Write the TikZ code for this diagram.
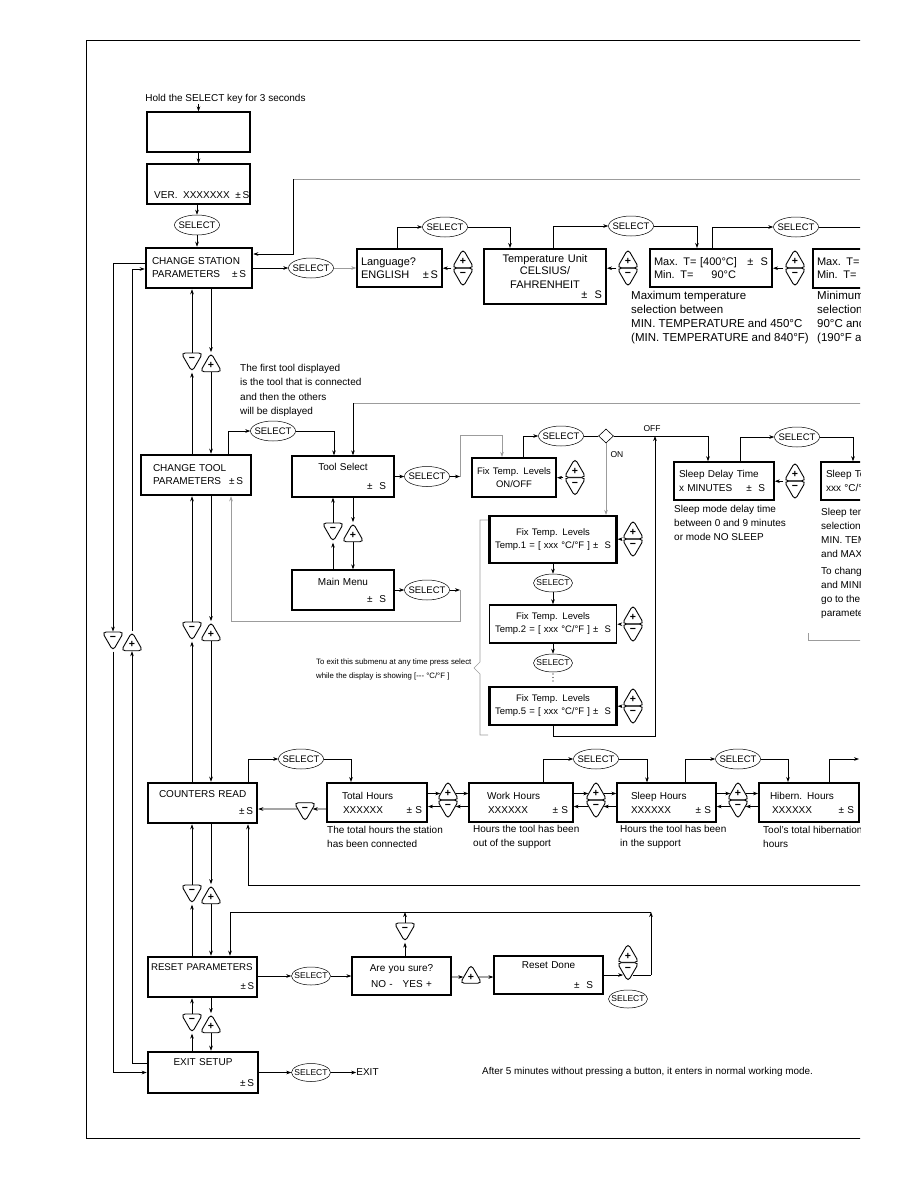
\documentclass[tikz,border=0pt]{standalone}
\usepackage{fontspec}
\setmainfont{Liberation Sans}
\usetikzlibrary{arrows.meta, shapes.geometric}
\definecolor{lgray}{HTML}{9C9C9C}
\newcommand{\selkey}{\makebox[0pt]{SELECT}}

\begin{document}
\begin{tikzpicture}[x=1pt, y=-1pt,
    disp/.style={draw, line width=1.3pt, align=left, inner xsep=5pt, inner ysep=0pt,
                 font=\fontsize{10}{14}\selectfont},
    menubox/.style={disp, line width=2.6pt, font=\fontsize{10}{13}\selectfont},
    tbox/.style={disp, align=center, line width=2.2pt, font=\fontsize{9.5}{13}\selectfont,
                 text width=119pt, inner xsep=4pt},
    txt/.style={align=left, inner sep=0pt, font=\fontsize{10}{14}\selectfont},
    selbtn/.style={draw, ellipse, line width=0.5pt, inner sep=0pt, minimum width=45pt,
                   minimum height=20pt, font=\fontsize{9.5}{10}\selectfont},
    selsm/.style={selbtn, minimum width=39pt, minimum height=18pt,
                  font=\fontsize{8.5}{9}\selectfont},
    btnp/.style={draw, regular polygon, regular polygon sides=3, minimum size=25pt,
                 inner sep=0pt, rounded corners=4pt, line width=0.9pt,
                 font=\fontsize{10.5}{10}\selectfont\bfseries},
    btnm/.style={btnp, shape border rotate=180},
    arr/.style={-{Stealth[length=5pt, width=3.6pt]}, line width=0.6pt},
    garr/.style={arr, draw=lgray},
    gline/.style={line width=0.6pt, draw=lgray}
]
\useasboundingbox (0,0) rectangle (918,1188);
\begin{scope}
\clip (0,0) rectangle (860,1188);
\draw[line width=0.8pt] (870,40) -- (86,40) -- (86,1138) -- (870,1138);

% start up
\node[txt] (hold) at (225.5,99) {Hold the SELECT key for 3 seconds};
\node[disp, minimum width=103pt, minimum height=40pt] (blank) at (198.5,132) {};
\node[disp, minimum width=103pt, minimum height=40pt] (ver) at (198.5,184) {};
\node[txt, anchor=west] (vertxt) at (154,195) {VER.\ \ XXXXXXX\ \ ±\,S};
\node[selbtn] (sel0) at (197,225) {\selkey};

% station parameters
\node[menubox, text width=94pt, inner xsep=6pt, minimum height=40pt] (station) at (199,268)
     {CHANGE STATION\\PARAMETERS\hfill ±\,S};
\node[selbtn] (sel1) at (311,268) {\selkey};
\node[disp, line width=1.5pt, font=\fontsize{11}{13}\selectfont, text width=77pt,
      inner xsep=4pt, minimum height=38pt] (lang) at (399.5,268) {Language?\\ENGLISH\hfill ±\,S};
\node[selbtn] (sel2) at (445,227) {\selkey};
\node[disp, line width=2pt, align=center, font=\fontsize{11}{12}\selectfont, text width=114pt,
      inner xsep=4pt, minimum height=55pt] (tunit) at (545,276.5)
     {Temperature Unit\\CELSIUS/\\[2pt]FAHRENHEIT\\[-2pt]\mbox{}\hfill ±\ \ S};
\node[selbtn] (sel3) at (631,226) {\selkey};
\node[disp, line width=2pt, font=\fontsize{11}{13}\selectfont, text width=114pt,
      inner xsep=4pt, minimum height=38pt] (maxT) at (711,268)
     {Max. T= [400°C]\hfill ±\ \ S\hspace*{4pt}\\Min. T=\hspace{18pt}90°C};
\node[selbtn] (sel4) at (796,227) {\selkey};
\node[disp, line width=2pt, font=\fontsize{11}{13}\selectfont, text width=78pt,
      inner xsep=4pt, minimum height=39pt] (minT) at (856,268.5) {Max. T=\\Min. T=};
\node[txt, anchor=west, font=\fontsize{11.5}{14}\selectfont] (maxdesc) at (631,318)
     {Maximum temperature\\selection between\\MIN. TEMPERATURE and 450°C\\(MIN. TEMPERATURE and 840°F)};
\node[txt, anchor=west, font=\fontsize{11.5}{14}\selectfont] (mindesc) at (817,318)
     {Minimum temperature\\selection between\\90°C and MAX. TEMPERATURE\\(190°F and MAX. TEMPERATURE)};

% tool parameters
\node[menubox, text width=94pt, inner xsep=8pt, minimum height=40pt] (tool) at (196,475)
     {\hspace*{4pt}CHANGE TOOL\\\hspace*{4pt}PARAMETERS\hfill ±\,S};
\node[txt, anchor=west, font=\fontsize{10}{14.5}\selectfont] (firstnote) at (240,390.5)
     {The first tool displayed\\is the tool that is connected\\and then the others\\will be displayed};
\node[selbtn] (sel5) at (273,431) {\selkey};
\node[disp, align=center, text width=86pt, inner xsep=8pt, minimum height=41pt] (toolsel) at (343,476.5)
     {Tool Select\\[5pt]\mbox{}\hfill ±\ \ S};
\node[disp, align=center, text width=86pt, inner xsep=8pt, minimum height=40pt] (mainmenu) at (343,590)
     {Main Menu\\[3pt]\mbox{}\hfill ±\ \ S};
\node[selbtn] (sel7) at (427,476.5) {\selkey};
\node[selbtn] (sel6) at (427,590) {\selkey};
\node[disp, line width=2.2pt, align=center, font=\fontsize{9.5}{13}\selectfont, text width=76pt,
      inner xsep=4pt, minimum height=39pt] (fix) at (514,477.5) {Fix Temp. Levels\\ON/OFF};
\node[selbtn] (sel8) at (561,436) {\selkey};
\node[draw, diamond, minimum width=15pt, minimum height=14pt, inner sep=0pt, line width=0.6pt]
     (dia) at (606,436) {};
\node[txt, font=\fontsize{8.5}{9}\selectfont] (offlbl) at (652,429) {OFF};
\node[txt, font=\fontsize{8.5}{9}\selectfont] (onlbl) at (617,455) {ON};
\node[tbox, minimum height=47pt] (t1) at (553,539.5) {Fix Temp. Levels\\Temp.1 = [ xxx °C/°F ] ±\ \ S};
\node[tbox, line width=1.5pt, minimum height=38pt] (t2) at (553,624) {Fix Temp. Levels\\Temp.2 = [ xxx °C/°F ] ±\ \ S};
\node[tbox, minimum height=38pt] (t5) at (553,706) {Fix Temp. Levels\\Temp.5 = [ xxx °C/°F ] ±\ \ S};
\node[selsm] (sel9) at (553,583) {\selkey};
\node[selsm] (sel10) at (553,663) {\selkey};
\foreach \dy in {0,3.5,7} \fill (553,674+\dy) circle (0.7pt);
\node[txt, anchor=west, font=\fontsize{7.8}{14}\selectfont] (exitnote) at (316,669)
     {To exit this submenu at any time press select\\while the display is showing [-{}-{}- °C/°F ]};

% sleep settings
\node[disp, line width=1.5pt, text width=90pt, minimum height=38pt] (sleep) at (724,481)
     {Sleep Delay Time\\x MINUTES\hspace{14pt}±\ \ S};
\node[disp, line width=1.5pt, text width=69pt, minimum height=38pt] (sleep2) at (860.5,481)
     {Sleep Temp.\\xxx °C/°F\ \ ±\ \ S};
\node[selbtn] (sel11) at (797,437) {\selkey};
\node[txt, anchor=west] (sleepdesc) at (674,523)
     {Sleep mode delay time\\between 0 and 9 minutes\\or mode NO SLEEP};
\node[txt, anchor=west] (sleeptdesc) at (821,533)
     {Sleep temperature\\selection between\\MIN. TEMPERATURE\\and MAX. TEMPERATURE};
\node[txt, anchor=west] (changedesc) at (821,593)
     {To change MAXIMUM\\and MINIMUM temperature\\go to the station\\parameters};

% counters
\node[menubox, text width=101pt, inner xsep=4pt, minimum height=40pt] (counters) at (202.5,803)
     {\hspace*{7pt}COUNTERS READ\\[4pt]\mbox{}\hfill ±\,S};
\node[selbtn] (sel12) at (301,759) {\selkey};
\node[disp, line width=2pt, text width=90pt, minimum height=39pt] (total) at (377,802.5)
     {\hspace*{10pt}Total Hours\\\hspace*{11pt}XXXXXX\hfill ±\ S\hspace*{4pt}};
\node[disp, text width=94pt, minimum height=39pt] (work) at (521,802.5)
     {\hspace*{13pt}Work Hours\\\hspace*{14pt}XXXXXX\hfill ±\ S};
\node[disp, text width=89pt, minimum height=39pt] (sleeph) at (666.5,802.5)
     {\hspace*{9pt}Sleep Hours\\\hspace*{9pt}XXXXXX\hfill ±\ S};
\node[disp, line width=2pt, text width=90pt, minimum height=39pt] (hib) at (809,802.5)
     {\hspace*{6pt}Hibern. Hours\\\hspace*{8pt}XXXXXX\hfill ±\ S\hspace*{2pt}};
\node[selbtn] (sel13) at (596,759) {\selkey};
\node[selbtn] (sel14) at (738,759) {\selkey};
\node[txt, anchor=west] (totaldesc) at (327,837) {The total hours the station\\has been connected};
\node[txt, anchor=west] (workdesc) at (473,837) {Hours the tool has been\\out of the support};
\node[txt, anchor=west] (sleephdesc) at (620,837) {Hours the tool has been\\in the support};
\node[txt, anchor=west] (hibdesc) at (763,837) {Tool's total hibernation\\hours};

% reset and exit
\node[menubox, font=\fontsize{9.7}{13}\selectfont, text width=103pt, inner xsep=3pt,
      minimum height=40pt] (reset) at (202.5,977) {RESET PARAMETERS\\[6pt]\mbox{}\hfill ±\,S};
\node[selsm] (sel15) at (311,976) {\selkey};
\node[disp, align=center, font=\fontsize{10}{13}\selectfont, text width=89pt, minimum height=38pt]
     (sure) at (401.5,976) {Are you sure?\\[3pt]NO -\ \ \ YES +};
\node[disp, align=center, font=\fontsize{10}{13}\selectfont, text width=89pt, inner xsep=10pt,
      minimum height=38pt] (done) at (548.5,975) {Reset Done\\[7pt]\mbox{}\hfill ±\ \ S};
\node[selsm] (sel16) at (628,999) {\selkey};
\node[menubox, align=center, text width=102pt, inner xsep=4pt, minimum height=41pt] (exit) at (203,1072.5)
     {EXIT SETUP\\[8pt]\mbox{}\hfill ±\,S};
\node[selsm] (sel17) at (311,1072.5) {\selkey};
\node[txt] (exittxt) at (367.5,1072.5) {EXIT};
\node[txt, anchor=west, font=\fontsize{9.9}{12}\selectfont] (timeout) at (482,1072)
     {After 5 minutes without pressing a button, it enters in normal working mode.};

% plus / minus keys beside a display
\foreach \n/\x/\j in {Lang/463/268, Unit/628/268, Max/795/268, Fix/575/477.5, Ta/633/539,
                      Tb/633/624, Tc/633/706, Slp/795/481, TW/448/800, WS/596/800,
                      SH/738/800, Done/628/962.5} {
  \node[btnp] (pl\n) at (\x,\j-6.5) {+};
  \node[btnm] (mi\n) at (\x,\j+6.5) {−};
}
% plus / minus keys between two displays
\foreach \n/\xa/\xb/\yt in {Wrap/113/132/632, ST/192/211/353, TM/333/353/523,
                            TC/192/211/622, CR/192/211/885, RE/192/211/1014} {
  \node[btnm] (mi\n) at (\xa,\yt+6.25) {−};
  \node[btnp] (pl\n) at (\xb,\yt+12.5) {+};
}
\node[btnm] (miCnt) at (305,809) {−};
\node[btnm] (miSure) at (405,929.25) {−};
\node[btnp] (plSure) at (471,977) {+};

% connectors: start up
\draw[arr] (blank.north |- hold.south) -- (blank.north);
\draw[arr] (blank) -- (ver);
\draw[arr] (sel0 |- ver.south) -- (sel0);
\draw[arr] (sel0) -- (sel0 |- station.north);
\coordinate (fbtop) at (293,179);
\draw[gline] (fbtop) -- (870,179);
\draw[arr] (fbtop) |- ([yshift=14pt]station.east);

% connectors: station row
\draw[arr] (station) -- (sel1);
\draw[garr] (sel1) -- (lang);
\draw[arr] ([xshift=-2.5pt]lang.north) |- (sel2);
\draw[arr] (sel2) -| ([xshift=-35pt]tunit.north);
\draw[arr] ([xshift=8pt]tunit.north) |- (sel3);
\draw[arr] (sel3) -| ([xshift=-14pt]maxT.north);
\draw[arr] ([xshift=1pt]maxT.north) |- (sel4);
\coordinate (maxr) at (870,227);
\draw[line width=0.6pt] (sel4) -- (maxr);
\foreach \p/\b in {plLang/lang, plUnit/tunit, plMax/maxT, plFix/fix, plTa/t1, plTb/t2,
                   plTc/t5, plSlp/sleep}
  \draw[arr] (\p.corner 2) -- (\p.corner 2 -| \b.east);

% connectors: menu column
\foreach \n/\up/\lo in {ST/station/tool, TM/toolsel/mainmenu, TC/tool/counters,
                        CR/counters/reset, RE/reset/exit} {
  \draw[arr] (mi\n.north) -- (mi\n.north |- \up.south);
  \draw[arr] (mi\n.south |- \lo.north) -- (mi\n.south);
  \draw[arr] (pl\n.north |- \up.south) -- (pl\n.north);
  \draw[arr] (pl\n.south) -- (pl\n.south |- \lo.north);
}
\draw[arr] ([yshift=5pt]station.west) -| (miWrap.north);
\draw[arr] (miWrap.south) |- (exit.west);
\draw[arr] ([yshift=9pt]exit.west) -| (plWrap.south);
\draw[arr] (plWrap.north) |- ([yshift=-1pt]station.west);

% connectors: tool row
\draw[arr] ([xshift=32pt]tool.north) |- (sel5);
\draw[arr] (sel5) -| ([xshift=-9pt]toolsel.north);
\coordinate (ret) at (353,403);
\draw[gline] (ret) -- (870,403);
\draw[arr] (ret) -- (ret |- toolsel.north);
\draw[arr] (mainmenu) -- (sel6);
\coordinate (mmr) at (460,590);
\coordinate (mmb) at (231,621);
\draw[arr] (sel6) -- (mmr);
\draw[garr] (mmr) |- (mmb) -- (mmb |- tool.south);
\draw[arr] (toolsel) -- (sel7);
\coordinate (fsr) at (460,476.5);
\coordinate (fsl) at (502,435);
\draw[arr] (sel7) -- (fsr);
\draw[garr] (fsr) |- (fsl) -- (fsl |- fix.north);
\draw[arr] ([xshift=9pt]fix.north) |- (sel8);
\draw[line width=0.6pt] (sel8) -- (dia);
\draw[arr] (dia.east) -| ([xshift=-16pt]sleep.north);
\draw[garr] (dia.south) -- (dia.south |- t1.north);
\draw[arr] (t1) -- (sel9);
\draw[arr] (sel9) -- (t2);
\draw[arr] (t2) -- (sel10);
\coordinate (lpb) at (655,736);
\draw[arr] (t5) |- (lpb) -- (lpb |- dia.east);
\draw[gline] (488,520) -- (480,520) -- (480,662) -- (474,668) -- (480,674) -- (480,735) -- (488,735);
\draw[arr] ([xshift=16pt]sleep.north) |- (sel11);
\draw[arr] (sel11) -| ([xshift=-7.5pt]sleep2.north);
\draw[gline] (808,633) -- (808,640) -- (870,640);

% connectors: counters row
\draw[arr] ([xshift=45.5pt]counters.north) |- (sel12);
\draw[arr] (sel12) -| ([xshift=-26pt]total.north);
\draw[arr] (total.west |- miCnt) -- (miCnt);
\draw[arr] (miCnt) -- (counters.east |- miCnt);
\foreach \a/\n/\b in {total/TW/work, work/WS/sleeph, sleeph/SH/hib} {
  \draw[arr] (\a.east |- pl\n) -- (pl\n);
  \draw[arr] (pl\n) -- (\b.west |- pl\n);
  \draw[arr] (\b.west |- mi\n) -- (mi\n);
  \draw[arr] (mi\n) -- (\a.east |- mi\n);
}
\draw[arr] ([xshift=22pt]work.north) |- (sel13);
\draw[arr] (sel13) -| ([xshift=-19.5pt]sleeph.north);
\draw[arr] ([xshift=18.5pt]sleeph.north) |- (sel14);
\draw[arr] (sel14) -| ([xshift=-21pt]hib.north);
\coordinate (hibr) at (859,759);
\draw[arr] ([xshift=20pt]hib.north) |- (hibr);
\coordinate (cret) at (870,885);
\draw[arr] (cret) -| ([xshift=45.5pt]counters.south);

% connectors: reset row
\draw[arr] (reset.east |- sel15) -- (sel15);
\draw[arr] (sel15) -- (sure.west |- sel15);
\draw[arr] (sure.east |- plSure) -- (plSure);
\draw[arr] (plSure) -- (done.west |- plSure);
\coordinate (rr) at (651,975);
\coordinate (rtl) at (230,912);
\draw[arr] (done.east) -- (done.east -| miDone.south west);
\draw[line width=0.6pt] (miDone.south east |- done.east) -- (rr);
\draw[arr] (rr) -- (rr |- rtl);
\draw[arr] (rr |- rtl) -- (rtl) -- (rtl |- reset.north);
\draw[arr] (miSure.south |- sure.north) -- (miSure.south);
\draw[arr] (miSure.north) -- (miSure.north |- rtl);
\draw[arr] (exit) -- (sel17);
\draw[arr] (sel17) -- (exittxt);
\end{scope}
\end{tikzpicture}
\end{document}
